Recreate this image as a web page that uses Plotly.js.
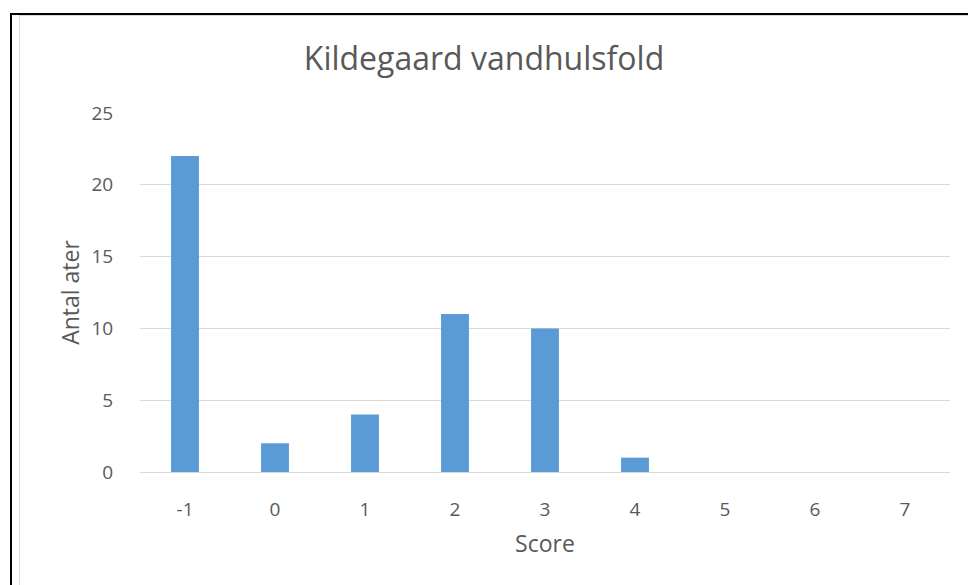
<!DOCTYPE html>
<html><head><meta charset="utf-8">
<script src="https://cdn.plot.ly/plotly-3.0.1.min.js"></script>
<style>
html,body{margin:0;padding:0;background:#fff;}
#wrap{position:relative;width:968px;height:585px;overflow:hidden;}
#chart{position:absolute;left:0;top:0;width:968px;height:585px;}
.b1{position:absolute;left:10px;top:13px;width:1000px;height:1000px;border-left:2px solid #000;border-top:2px solid #000;pointer-events:none;}
.b2{position:absolute;left:19px;top:15px;width:1000px;height:1000px;border-left:1px solid #d9d9d9;border-top:1px solid #d9d9d9;pointer-events:none;}
</style></head>
<body><div id="wrap"><div id="chart"></div><div class="b2"></div><div class="b1"></div></div>
<script>
const categories = ["-1","0","1","2","3","4","5","6","7"];
const counts = [22, 2, 4, 11, 10, 1, 0, 0, 0];
const yTicks = [0, 5, 10, 15, 20, 25];

const font = "'Open Sans', 'Noto Sans', sans-serif";
Plotly.newPlot('chart', [{
  type: 'bar', x: categories, y: counts,
  marker: {color: '#5b9bd5'}, hoverinfo: 'x+y'
}], {
  width: 968, height: 585,
  margin: {l: 140, r: 18, t: 113, b: 113},
  paper_bgcolor: '#fff', plot_bgcolor: '#fff',
  bargap: 0.69,
  showlegend: false,
  title: {text: 'Kildegaard vandhulsfold', font: {family: font, size: 32, color: '#595959'}, x: 0.5, xanchor: 'center', yanchor: 'middle', yref: 'container', y: 0.9},
  xaxis: {type: 'category', tickfont: {family: font, size: 19, color: '#595959'},
    showgrid: false, zeroline: false, showline: false, ticks: 'outside', ticklen: 20, tickcolor: 'rgba(0,0,0,0)',
    title: {text: 'Score', font: {family: font, size: 23, color: '#595959'}, standoff: 15}},
  yaxis: {range: [0, 25], tickvals: yTicks, tickfont: {family: font, size: 19, color: '#595959'},
    showgrid: true, gridcolor: '#d9d9d9', gridwidth: 1, zeroline: true, zerolinecolor: '#d9d9d9', zerolinewidth: 1,
    ticks: 'outside', ticklen: 22, tickcolor: 'rgba(0,0,0,0)',
    title: {text: 'Antal ater', font: {family: font, size: 23, color: '#595959'}, standoff: 5}}
}, {displayModeBar: false, staticPlot: true});
</script></body></html>
